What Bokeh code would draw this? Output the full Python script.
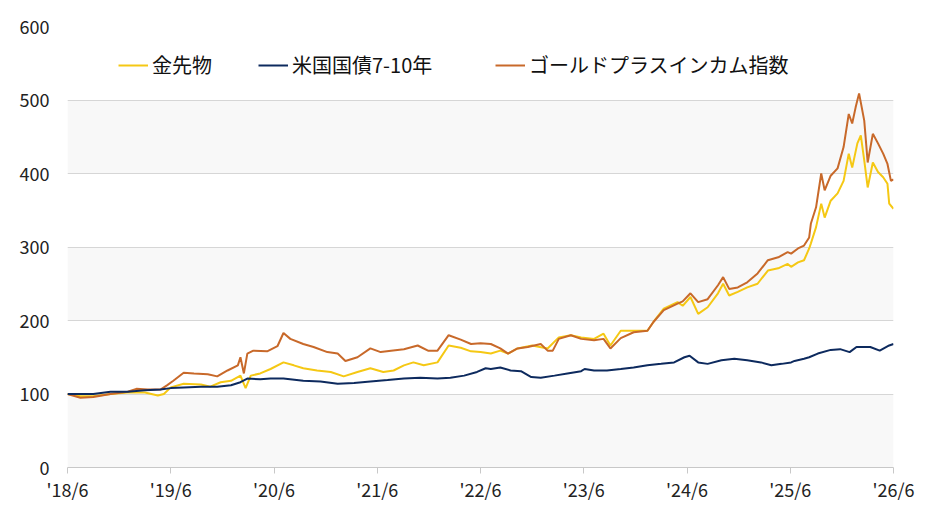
from bokeh.plotting import figure
from bokeh.models import (FixedTicker, BoxAnnotation, Legend, LegendItem)
from bokeh.embed import file_html
from bokeh.resources import INLINE

# ---- data (x = months since 2018/6) ----
tick_months = [0, 12, 24, 36, 48, 60, 72, 84, 96]
tick_labels = ["'18/6", "'19/6", "'20/6", "'21/6", "'22/6", "'23/6", "'24/6", "'25/6", "'26/6"]
y_ticks = [0, 100, 200, 300, 400, 500, 600]

gold_m = [0, 1.5, 3, 5, 7, 9, 10.5, 11.2, 12, 13.5, 15.5, 16.6, 17.8, 19, 20.1, 20.7, 21.3, 22.4,
          23.6, 25.1, 26.3, 27.4, 29, 30.6, 32.1, 33.7, 35.2, 36.7, 37.9, 39.1, 40.2, 41.4, 43,
          44.3, 45.7, 46.9, 48, 49.2, 50.3, 51.2, 52.3, 54, 55.8, 57.1, 58.5, 59.7, 61.2, 62.3,
          63.1, 64.3, 65.8, 67.4, 68.1, 69.3, 70.9, 71.5, 72.4, 73.3, 74.4, 75.6, 76.2, 76.9,
          77.9, 79, 80.2, 81.4, 82.6, 83.7, 84.1, 84.9, 85.6, 86.2, 86.4, 87, 87.6, 88, 88.7,
          89.5, 90.2, 90.8, 91.2, 91.8, 92.2, 92.6, 93, 93.6, 94.2, 94.8, 95.3, 95.5, 96]
gold_v = [100, 97, 97, 100, 102, 102, 98, 100, 109, 114, 113, 110, 116, 118, 125, 108, 125, 128,
          134, 143, 139, 135, 132, 130, 124, 130, 135, 130, 132, 139, 143, 139, 143,
          166, 163, 158, 157, 155, 159, 155, 162, 166, 162, 177, 180, 177, 175, 182,
          166, 186, 186, 186, 198, 216, 225, 220, 232, 209, 218, 237, 250, 234,
          239, 245, 250, 268, 271, 277, 273, 279, 282, 298, 305, 327, 359, 340, 363,
          373, 390, 427, 408, 441, 452, 418, 381, 415, 402, 395, 386, 359, 352]

bond_m = [0, 1.5, 3, 5, 7, 9, 10.8, 12, 13.5, 15.5, 17.4, 19, 20.1, 20.9, 22.4, 23.6, 25.1, 27.4,
          29.4, 31.4, 33.3, 35.2, 37.2, 39.1, 41, 43, 44.5, 46.1, 47.6, 48.6, 49.2, 50.3, 51.5,
          52.7, 53.9, 55, 56.6, 58.1, 59.7, 60.1, 61.2, 62.7, 64.3, 65.8, 67.4, 69, 70.5, 71.7,
          72.3, 73.3, 74.4, 76, 77.5, 79, 80.6, 81.8, 83, 84.1, 84.5, 85.6, 86.2, 87.2, 88.7,
          89.8, 90.9, 91.7, 93.3, 94.4, 95.5, 96]
bond_v = [100, 100, 100, 103, 103, 105, 106, 108, 109, 110, 110, 112, 116, 121, 120, 121, 121, 118,
          117, 114, 115, 117, 119, 121, 122, 121, 122, 125, 130, 135, 134, 136, 132,
          131, 123, 122, 125, 128, 131, 134, 132, 132, 134, 136, 139, 141, 143, 150,
          152, 143, 141, 146, 148, 146, 143, 139, 141, 143, 145, 148, 150, 155, 160,
          161, 157, 164, 164, 159, 166, 168]

gpi_m = [0, 1.5, 3, 5, 7, 8, 9.3, 10.8, 11.6, 12.3, 13.5, 14.7, 16.3, 17.4, 18.6, 19.8, 20.1, 20.5,
         20.9, 21.6, 23.2, 24.4, 25.1, 25.9, 27.4, 28.6, 30.2, 31.4, 32.3, 33.7, 35.2, 36.4, 37.6,
         39.1, 40.7, 41.9, 43, 44.3, 45.7, 46.9, 48, 49.2, 50.3, 51.2, 52.3, 53.5, 55, 55.8, 56.4,
         57.1, 58.5, 59.7, 61.2, 62.3, 63.1, 64.3, 65.8, 67.4, 68.1, 69.3, 70.9, 71.5, 72.4, 73.3,
         74.4, 75.6, 76.2, 76.9, 77.9, 79, 80.2, 81.4, 82.6, 83.7, 84.1, 84.9, 85.6, 86.2, 86.4,
         87, 87.6, 88, 88.7, 89.5, 90.2, 90.8, 91.2, 91.6, 92, 92.6, 93, 93.6, 94.2, 94.8, 95.3,
         95.7, 96]
gpi_v = [100, 95, 96, 100, 103, 107, 106, 106, 112, 118, 129, 128, 127, 124, 132, 139, 150, 128,
         155, 159, 158, 165, 183, 175, 168, 164, 157, 155, 145, 150, 162, 157, 159,
         161, 166, 159, 159, 180, 174, 168, 169, 168, 162, 155, 162, 164, 168, 159, 159,
         175, 180, 175, 173, 175, 162, 176, 184, 186, 198, 214, 223, 226, 237, 225,
         229, 248, 259, 243, 245, 252, 264, 282, 286, 293, 291, 298, 302, 313, 332,
         354, 400, 377, 397, 407, 436, 481, 468, 490, 509, 472, 415, 454, 441, 427, 413,
         390, 392]

names = ["金先物", "米国国債7-10年", "ゴールドプラスインカム指数"]
colors = ["#F5C814", "#0D2A5E", "#C8692A"]

FONT = "Noto Sans CJK JP"

p = figure(width=916, height=505, output_backend="svg", toolbar_location=None,
           x_range=(0, 96), y_range=(0, 600),
           min_border_left=67, min_border_right=23, min_border_top=26, min_border_bottom=38)
p.outline_line_color = None
p.background_fill_color = "white"

# alternating bands
for lo in [0, 200, 400]:
    p.add_layout(BoxAnnotation(bottom=lo, top=lo + 100, fill_color="#f8f8f8",
                               fill_alpha=1.0, line_color=None, level="image"))

p.xgrid.grid_line_color = None
p.ygrid.grid_line_color = "#d6d6d6"
p.ygrid.grid_line_width = 1
p.ygrid.ticker = FixedTicker(ticks=y_ticks)

p.yaxis.ticker = FixedTicker(ticks=y_ticks)
p.yaxis.axis_line_color = None
p.yaxis.major_tick_line_color = None
p.yaxis.minor_tick_line_color = None
p.yaxis.major_label_standoff = 12
p.yaxis.major_label_text_font = FONT
p.yaxis.major_label_text_font_size = "18px"
p.yaxis.major_label_text_color = "#222222"

p.xaxis.ticker = FixedTicker(ticks=tick_months)
p.xaxis.major_label_overrides = {m: l for m, l in zip(tick_months, tick_labels)}
p.xaxis.axis_line_color = "#c8c8c8"
p.xaxis.major_tick_line_color = "#c8c8c8"
p.xaxis.major_tick_in = 0
p.xaxis.major_tick_out = 6
p.xaxis.minor_tick_line_color = None
p.xaxis.major_label_standoff = 2
p.xaxis.major_label_text_font = FONT
p.xaxis.major_label_text_font_size = "18px"
p.xaxis.major_label_text_color = "#222222"

r_gold = p.line(gold_m, gold_v, line_color=colors[0], line_width=2)
r_gpi = p.line(gpi_m, gpi_v, line_color=colors[2], line_width=2)
r_bond = p.line(bond_m, bond_v, line_color=colors[1], line_width=2)

for label, rend, xoff in [(names[0], r_gold, 51), (names[1], r_bond, 191), (names[2], r_gpi, 428)]:
    lg = Legend(items=[LegendItem(label=label, renderers=[rend])],
                orientation="horizontal", location=(xoff, 388),
                glyph_width=30, glyph_height=20, label_standoff=4,
                padding=0, margin=0, border_line_color=None, background_fill_alpha=0,
                label_text_font=FONT, label_text_font_size="20px", label_text_color="#111111")
    p.add_layout(lg, "center")

open("out.html", "w").write(file_html(p, INLINE))
